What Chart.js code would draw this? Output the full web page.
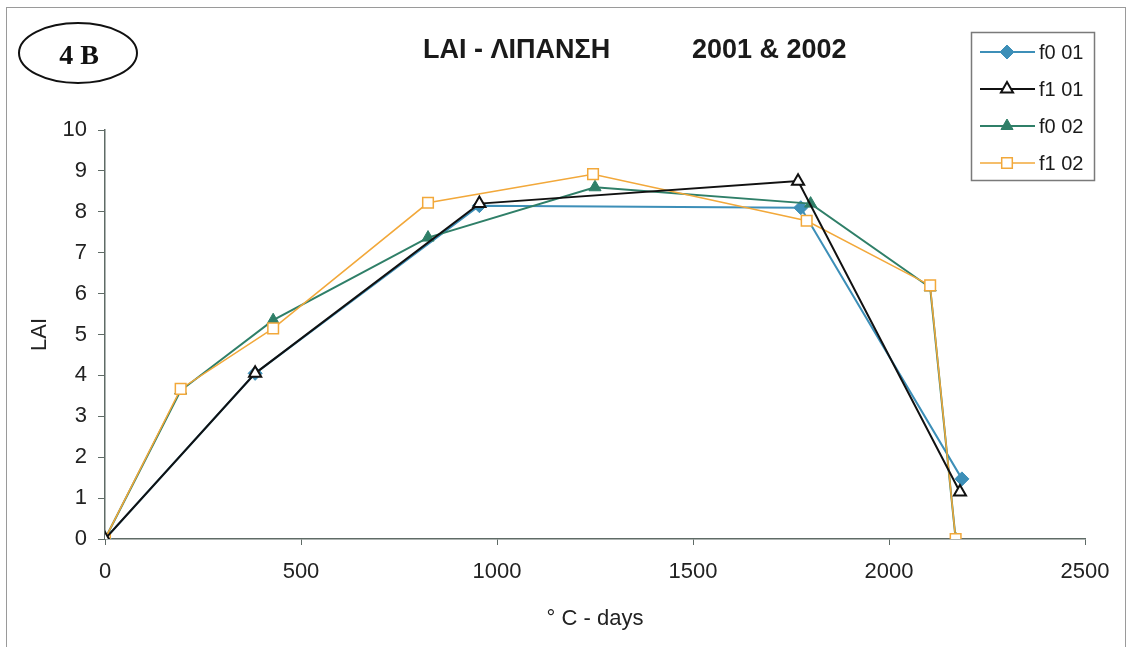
<!DOCTYPE html>
<html>
<head>
<meta charset="utf-8">
<script src="https://cdn.jsdelivr.net/npm/chart.js@4/dist/chart.umd.min.js"></script>
<style>
  html, body { margin: 0; padding: 0; background: #fff; }
  #wrap { width: 1131px; height: 647px; position: relative; }
</style>
</head>
<body>
<div id="wrap"><canvas id="laiChart" width="1131" height="647"></canvas></div>
<script>
// degree-days and LAI values
var xF001 = [0, 383, 955, 1775, 2186];
var yF001 = [0, 4.05, 8.15, 8.1, 1.47];

var xF101 = [0, 383, 955, 1768, 2181];
var yF101 = [0, 4.05, 8.2, 8.75, 1.15];

var xF002 = [0, 193, 429, 824, 1250, 1800, 2105, 2170];
var yF002 = [0, 3.63, 5.35, 7.37, 8.6, 8.2, 6.15, 0];

var xF102 = [0, 193, 429, 824, 1245, 1790, 2105, 2170];
var yF102 = [0, 3.67, 5.15, 8.22, 8.92, 7.78, 6.2, 0];

var seriesNames = ['f0 01', 'f1 01', 'f0 02', 'f1 02'];
var xTickStep = 500;
var yTickStep = 1;

var colors = {
    blue: '#3d8fb8',
    black: '#111111',
    green: '#2f7f68',
    orange: '#f2a83a'
};

function pts(xs, ys) {
    var out = [];
    for (var i = 0; i < xs.length; i++) out.push({ x: xs[i], y: ys[i] });
    return out;
}

var datasets = [
    {
        label: seriesNames[0], data: pts(xF001, yF001),
        borderColor: colors.blue, backgroundColor: colors.blue, borderWidth: 2,
        pointStyle: 'rectRot', pointRadius: 7, pointBorderWidth: 1,
        pointBackgroundColor: colors.blue, order: 4
    },
    {
        label: seriesNames[1], data: pts(xF101, yF101),
        borderColor: colors.black, backgroundColor: '#fff', borderWidth: 2,
        pointStyle: 'triangle', pointRadius: 7, pointBorderWidth: 2,
        pointBackgroundColor: '#fff', order: 1
    },
    {
        label: seriesNames[2], data: pts(xF002, yF002),
        borderColor: colors.green, backgroundColor: colors.green, borderWidth: 2,
        pointStyle: 'triangle', pointRadius: 7, pointBorderWidth: 1,
        pointBackgroundColor: colors.green, order: 3
    },
    {
        label: seriesNames[3], data: pts(xF102, yF102),
        borderColor: colors.orange, backgroundColor: '#fff', borderWidth: 1.5,
        pointStyle: 'rect', pointRadius: 7.5, pointBorderWidth: 1.5,
        pointBackgroundColor: '#fff', order: 2
    }
];

// frame, oval label, title and boxed legend
var decorPlugin = {
    id: 'decor',
    beforeDraw: function(chart) {
        var c = chart.ctx;
        c.save();
        c.fillStyle = '#fff';
        c.fillRect(0, 0, chart.width, chart.height);
        c.strokeStyle = '#9a9a9a';
        c.lineWidth = 1;
        c.strokeRect(6.5, 7.5, 1119, 700);
        c.restore();
    },
    afterDraw: function(chart) {
        var c = chart.ctx;
        c.save();
        // oval
        c.strokeStyle = '#111';
        c.lineWidth = 2;
        c.beginPath();
        c.ellipse(78, 53, 59, 30, 0, 0, Math.PI * 2);
        c.stroke();
        c.fillStyle = '#111';
        c.font = 'bold 28px "Liberation Serif"';
        c.textAlign = 'center';
        c.textBaseline = 'middle';
        c.fillText('4 B', 79, 57);

        // title
        c.font = 'bold 27px "Liberation Sans"';
        c.textAlign = 'left';
        c.fillStyle = '#1a1a1a';
        c.fillText('LAI - ΛΙΠΑΝΣΗ', 423, 51);
        c.fillText('2001 & 2002', 692, 51);

        // legend box
        c.strokeStyle = '#7a7a7a';
        c.lineWidth = 1.5;
        c.strokeRect(971.5, 32.5, 123, 148);
        var rowY = [52, 89, 126, 163];
        c.font = '20px "Liberation Sans"';
        for (var i = 0; i < datasets.length; i++) {
            var ds = datasets[i];
            var y = rowY[i];
            c.strokeStyle = ds.borderColor;
            c.lineWidth = ds.borderWidth;
            c.beginPath();
            c.moveTo(980, y);
            c.lineTo(1035, y);
            c.stroke();
            c.fillStyle = ds.pointBackgroundColor;
            c.strokeStyle = ds.borderColor;
            c.lineWidth = ds.pointBorderWidth;
            Chart.helpers.drawPoint(c, {
                pointStyle: ds.pointStyle, radius: ds.pointRadius, borderWidth: ds.pointBorderWidth, rotation: 0
            }, 1007, y);
            c.fillStyle = '#1a1a1a';
            c.textAlign = 'left';
            c.fillText(ds.label, 1039, y + 1);
        }
        c.restore();
    }
};

var ctx = document.getElementById('laiChart').getContext('2d');

var plainTick = function(v) { return String(v); };

var config = {
    type: 'line',
    data: { datasets: datasets },
    options: {
        responsive: false,
        animation: false,
        layout: { padding: { left: 0, right: 46, top: 130, bottom: 0 } },
        plugins: {
            legend: { display: false },
            title: { display: false },
            tooltip: { enabled: false }
        },
        scales: {
            x: {
                type: 'linear', min: 0, max: 2500,
                afterFit: function(s) { s.height = 108; },
                border: { color: '#5f6b66', width: 1.5 },
                grid: { display: true, drawOnChartArea: false, drawTicks: true, tickLength: 6, color: '#5f6b66' },
                ticks: { stepSize: xTickStep, padding: 14, color: '#222', callback: plainTick,
                    font: { family: 'Liberation Sans', size: 22 } },
                title: { display: true, text: '° C - days', color: '#222', padding: { top: 0, bottom: 15 },
                    font: { family: 'Liberation Sans', size: 22 } }
            },
            y: {
                min: 0, max: 10,
                afterFit: function(s) { s.width = 105; },
                border: { color: '#5f6b66', width: 1.5 },
                grid: { display: true, drawOnChartArea: false, drawTicks: true, tickLength: 7, color: '#5f6b66' },
                ticks: { stepSize: yTickStep, padding: 11, color: '#222', callback: plainTick,
                    font: { family: 'Liberation Sans', size: 22 } },
                title: { display: true, text: 'LAI', color: '#222', padding: { top: 27, bottom: 0 },
                    font: { family: 'Liberation Sans', size: 22 } }
            }
        }
    },
    plugins: [decorPlugin]
};

var laiChart = new Chart(ctx, config);
</script>
</body>
</html>
